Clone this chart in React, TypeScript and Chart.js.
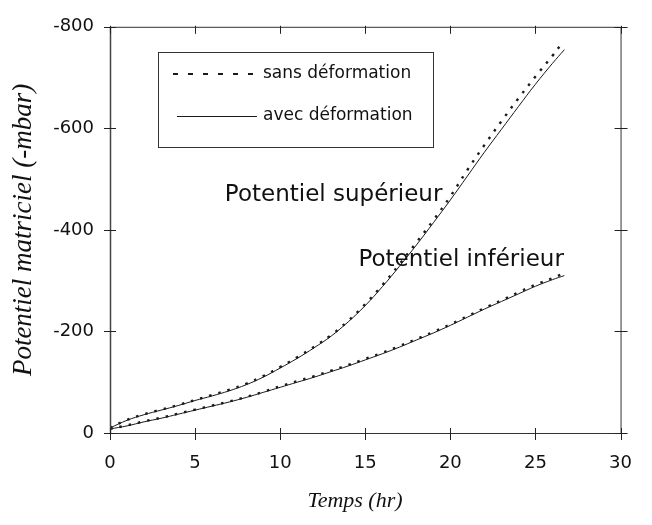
import React, { useEffect, useRef } from "react";
import { Chart, registerables } from "chart.js";

Chart.register(...registerables);

// ---- data (hours, -mbar) ----
const timesAvec = [0, 1, 2, 3, 4, 5, 6, 7, 8, 9, 10, 11, 12, 13, 14, 15, 16, 17, 18, 19, 20, 21, 22, 23, 24, 25, 26, 26.7];
const timesSans = [0, 1, 2, 3, 4, 5, 6, 7, 8, 9, 10, 11, 12, 13, 14, 15, 16, 17, 18, 19, 20, 21, 22, 23, 24, 25, 26, 26.5];

const upperAvec = [-10, -25, -36, -45, -54, -64, -73, -83, -95, -110, -128, -147, -168, -191, -219, -251, -288, -328, -370, -414, -459, -506, -553, -598, -643, -687, -728, -755];
const upperSans = [-10, -26, -37, -46, -55, -65, -75, -85, -97, -112, -130, -149, -170, -193, -221, -254, -291, -332, -375, -419, -466, -518, -567, -614, -659, -702, -743, -765];
const lowerAvec = [-8, -14, -22, -29, -37, -45, -53, -61, -70, -80, -90, -100, -110, -121, -132, -144, -156, -169, -183, -197, -212, -228, -244, -259, -274, -289, -302, -310];
const lowerSans = [-8, -15, -23, -30, -38, -46, -54, -62, -71, -81, -92, -102, -112, -123, -134, -146, -158, -171, -185, -199, -214, -230, -246, -261, -277, -292, -305, -312];

const xTicks = [0, 5, 10, 15, 20, 25, 30];
const yTicks = [0, -200, -400, -600, -800];

const legendLabels = ["sans déformation", "avec déformation"];
const xTitle = "Temps (hr)";
const yTitle = "Potentiel matriciel (-mbar)";
const annotations = [
  { text: "Potentiel supérieur", t: 6.75, v: -468 },
  { text: "Potentiel inférieur", t: 14.6, v: -340 },
];

const pts = (xs: number[], ys: number[]) => xs.map((x, i) => ({ x, y: ys[i] }));

const INK = "#1a1a1a";

const framePlugin = {
  id: "frame",
  afterDraw(chart: any) {
    const { ctx, chartArea, scales } = chart;
    const { left, right, top, bottom } = chartArea;
    const xs = scales.x;
    const ys = scales.y;
    ctx.save();
    // frame
    ctx.strokeStyle = "#333";
    ctx.lineWidth = 1;
    ctx.strokeRect(left + 0.5, top + 0.5, right - left, bottom - top);
    ctx.lineWidth = 1.5;
    ctx.strokeStyle = "#444";
    ctx.beginPath();
    ctx.moveTo(left + 0.5, top);
    ctx.lineTo(left + 0.5, bottom);
    ctx.stroke();
    // ticks
    ctx.lineWidth = 1;
    ctx.strokeStyle = "#222";
    ctx.beginPath();
    xTicks.forEach((t) => {
      const px = Math.round(xs.getPixelForValue(t)) + 0.5;
      ctx.moveTo(px, bottom - 5);
      ctx.lineTo(px, bottom + 7);
      ctx.moveTo(px, top - 1);
      ctx.lineTo(px, top + 7);
    });
    yTicks.forEach((v) => {
      const py = Math.round(ys.getPixelForValue(v)) + 0.5;
      ctx.moveTo(left - 6, py);
      ctx.lineTo(left + 6, py);
      ctx.moveTo(right - 6, py);
      ctx.lineTo(right + 7, py);
    });
    ctx.stroke();

    // legend box
    ctx.strokeStyle = "#333";
    ctx.lineWidth = 1;
    ctx.strokeRect(158.5, 52.5, 275, 95);
    ctx.strokeStyle = INK;
    ctx.lineWidth = 2;
    ctx.setLineDash([5, 10]);
    ctx.beginPath();
    ctx.moveTo(173, 74);
    ctx.lineTo(263, 74);
    ctx.stroke();
    ctx.setLineDash([]);
    ctx.lineWidth = 1;
    ctx.beginPath();
    ctx.moveTo(177, 116.5);
    ctx.lineTo(257, 116.5);
    ctx.stroke();
    ctx.fillStyle = "#111";
    ctx.font = "17px 'DejaVu Sans'";
    ctx.textAlign = "left";
    ctx.textBaseline = "middle";
    ctx.fillText(legendLabels[0], 263, 74);
    ctx.fillText(legendLabels[1], 263, 116);

    // annotations
    ctx.font = "23px 'DejaVu Sans'";
    annotations.forEach((a) => {
      ctx.fillText(a.text, xs.getPixelForValue(a.t), ys.getPixelForValue(a.v));
    });

    // axis titles
    ctx.font = "italic 22px 'Liberation Serif'";
    ctx.textAlign = "center";
    ctx.fillText(xTitle, 355, 501);
    ctx.save();
    ctx.translate(24, (top + bottom) / 2);
    ctx.rotate(-Math.PI / 2);
    ctx.font = "italic 27px 'Liberation Serif'";
    ctx.fillText(yTitle, 0, 0);
    ctx.restore();
    ctx.restore();
  },
};

export default function App() {
  const ref = useRef<HTMLCanvasElement | null>(null);
  useEffect(() => {
    if (!ref.current) return;
    const chart = new Chart(ref.current, {
      type: "line",
      data: {
        datasets: [
          { label: legendLabels[0], data: pts(timesSans, upperSans), borderColor: INK, borderWidth: 2.4, borderDash: [2.5, 7], pointRadius: 0, tension: 0.4, fill: false },
          { label: legendLabels[0], data: pts(timesSans, lowerSans), borderColor: INK, borderWidth: 2.4, borderDash: [2.5, 7], pointRadius: 0, tension: 0.4, fill: false },
          { label: legendLabels[1], data: pts(timesAvec, upperAvec), borderColor: INK, borderWidth: 1, pointRadius: 0, tension: 0.4, fill: false },
          { label: legendLabels[1], data: pts(timesAvec, lowerAvec), borderColor: INK, borderWidth: 1, pointRadius: 0, tension: 0.4, fill: false },
        ],
      },
      options: {
        responsive: false,
        animation: false,
        layout: { padding: { top: 21, right: 11, left: 0, bottom: 0 } },
        plugins: { legend: { display: false }, tooltip: { enabled: false } },
        scales: {
          x: {
            type: "linear",
            min: 0,
            max: 30,
            grid: { display: false, drawTicks: false },
            border: { display: false },
            afterFit: (s: any) => { s.height = 92; },
            afterBuildTicks: (s: any) => { s.ticks = xTicks.map((v) => ({ value: v })); },
            ticks: { color: "#111", font: { family: "'DejaVu Sans'", size: 18 }, padding: 20, maxRotation: 0 },
          },
          y: {
            type: "linear",
            min: -800,
            max: 0,
            reverse: true,
            grid: { display: false, drawTicks: false },
            border: { display: false },
            afterFit: (s: any) => { s.width = 110; },
            afterBuildTicks: (s: any) => { s.ticks = yTicks.map((v) => ({ value: v })); },
            ticks: { color: "#111", font: { family: "'DejaVu Sans'", size: 18 }, padding: 16 },
          },
        },
      },
      plugins: [framePlugin],
    });
    return () => chart.destroy();
  }, []);
  return (
    <div style={{ position: "absolute", left: 0, top: 0, width: 652, height: 525, background: "#fff" }}>
      <canvas ref={ref} width={652} height={525} style={{ width: 652, height: 525 }} />
    </div>
  );
}
